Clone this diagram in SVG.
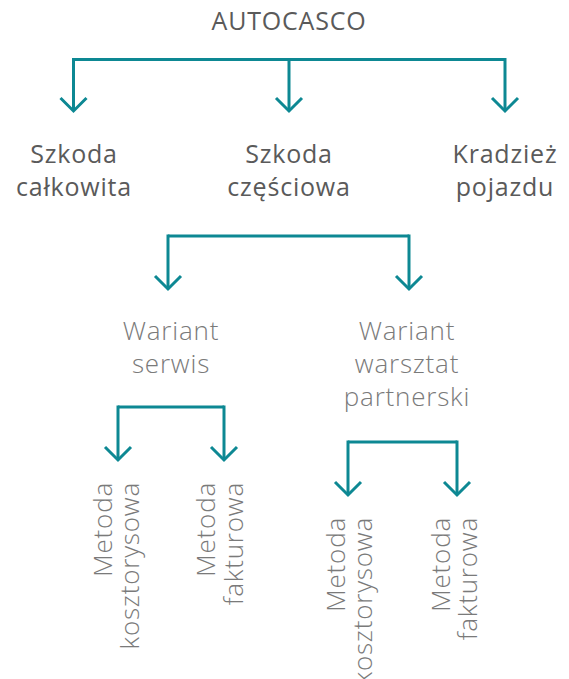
<svg xmlns="http://www.w3.org/2000/svg" width="569" height="679" viewBox="0 0 569 679">
<defs>
<style>
.bg{fill:#ffffff}
.c{fill:none;stroke:#0d8893;stroke-width:3;stroke-linejoin:miter}
.t1{font-family:"Open Sans","DejaVu Sans",sans-serif;font-size:25px;letter-spacing:0.8px;fill:#5a5a5a;text-anchor:middle}
.t2{font-family:"Open Sans","DejaVu Sans",sans-serif;font-size:26px;letter-spacing:0.8px;font-weight:300;fill:#7a7a7a;text-anchor:middle}
.t3{font-family:"Open Sans","DejaVu Sans",sans-serif;font-size:26px;letter-spacing:0.8px;font-weight:300;fill:#7a7a7a;text-anchor:end}
</style>
<marker id="chev" markerUnits="userSpaceOnUse" markerWidth="32" markerHeight="20" viewBox="-16 -17 32 20" refX="0" refY="0" orient="0">
<path d="M-13,-13 L0,0 L13,-13" fill="none" stroke="#0d8893" stroke-width="3"/>
</marker>
</defs>
<rect class="bg" x="0" y="0" width="569" height="679"/>
<g id="connectors">
<path class="c" d="M73.5,59.5 H505"/>
<path class="c" d="M73.5,58 V111" marker-end="url(#chev)"/>
<path class="c" d="M289,59.5 V111" marker-end="url(#chev)"/>
<path class="c" d="M505,58 V111" marker-end="url(#chev)"/>
<path class="c" d="M168,236 H409"/>
<path class="c" d="M168,234.5 V289" marker-end="url(#chev)"/>
<path class="c" d="M409,234.5 V289" marker-end="url(#chev)"/>
<path class="c" d="M118,407 H224"/>
<path class="c" d="M118,405.5 V460" marker-end="url(#chev)"/>
<path class="c" d="M224,405.5 V460" marker-end="url(#chev)"/>
<path class="c" d="M348,442 H457"/>
<path class="c" d="M348,440.5 V495" marker-end="url(#chev)"/>
<path class="c" d="M457,440.5 V495" marker-end="url(#chev)"/>
</g>
<g id="autocasco"><text class="t1" x="289" y="30">AUTOCASCO</text></g>
<g id="szkoda-calkowita"><text class="t1" x="74" y="163">Szkoda</text><text class="t1" x="74" y="196">całkowita</text></g>
<g id="szkoda-czesciowa"><text class="t1" x="289" y="163">Szkoda</text><text class="t1" x="289" y="196">częściowa</text></g>
<g id="kradziez-pojazdu"><text class="t1" x="505" y="163">Kradzież</text><text class="t1" x="505" y="196">pojazdu</text></g>
<g id="wariant-serwis"><text class="t2" x="171" y="340">Wariant</text><text class="t2" x="171" y="373">serwis</text></g>
<g id="wariant-warsztat"><text class="t2" x="407" y="340">Wariant</text><text class="t2" x="407" y="373">warsztat</text><text class="t2" x="407" y="406">partnerski</text></g>
<g id="serwis-kosztorysowa"><text class="t3" transform="translate(112,482) rotate(-90)">Metoda</text><text class="t3" transform="translate(139,482) rotate(-90)">kosztorysowa</text></g>
<g id="serwis-fakturowa"><text class="t3" transform="translate(215,482) rotate(-90)">Metoda</text><text class="t3" transform="translate(243,482) rotate(-90)">fakturowa</text></g>
<g id="warsztat-kosztorysowa"><text class="t3" transform="translate(345,517) rotate(-90)">Metoda</text><text class="t3" transform="translate(372,517) rotate(-90)">kosztorysowa</text></g>
<g id="warsztat-fakturowa"><text class="t3" transform="translate(450,517) rotate(-90)">Metoda</text><text class="t3" transform="translate(477,517) rotate(-90)">fakturowa</text></g>
</svg>
